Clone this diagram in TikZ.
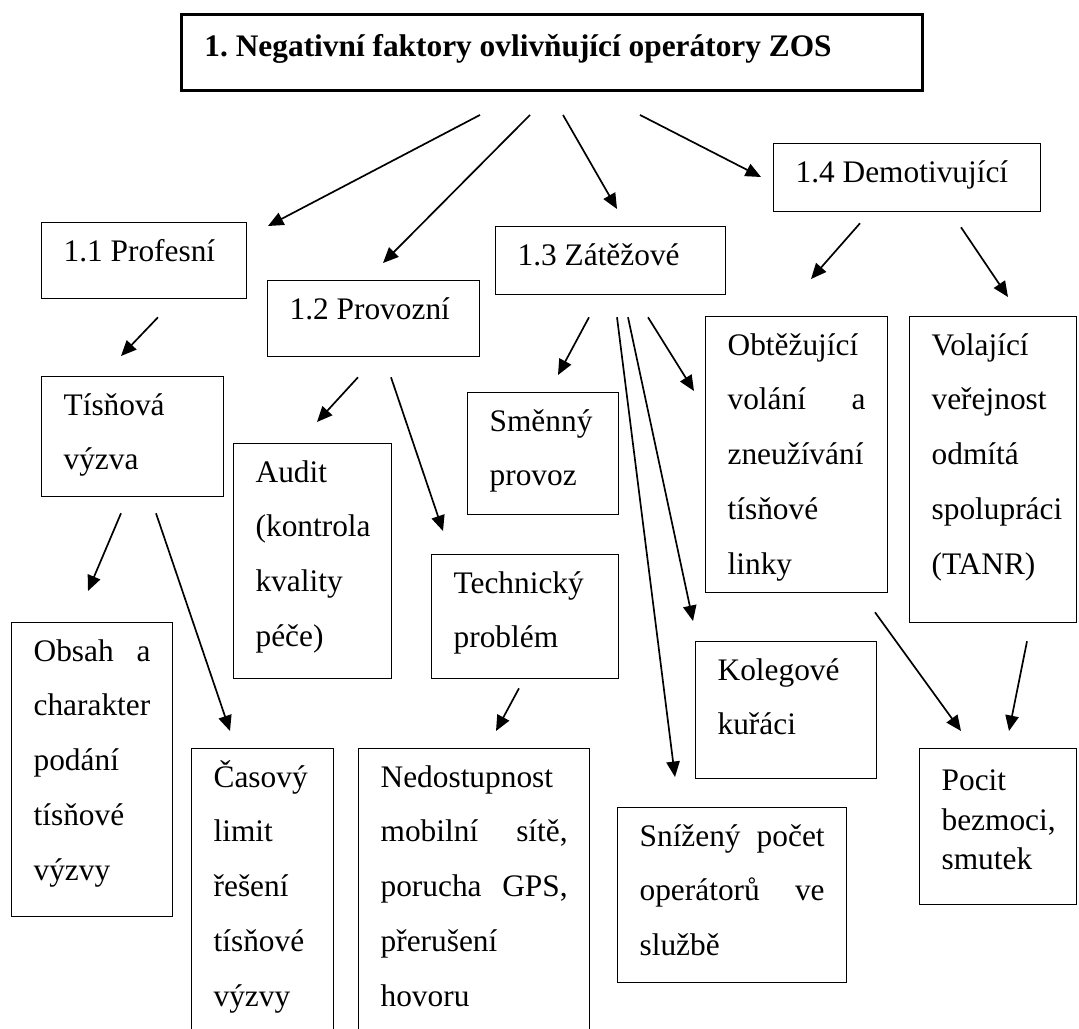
\documentclass[tikz,border=0pt]{standalone}
\usepackage{fontspec}
\setmainfont{Liberation Serif}
\usepackage{tikz}
\usetikzlibrary{arrows.meta}

\newlength{\px}
\setlength{\px}{0.025cm}
\frenchspacing
\hfuzz=20pt
\hbadness=10000
\hyphenpenalty=10000
\exhyphenpenalty=10000
\newcommand{\factbox}[4][\strut]{\parbox[t][#3\px][t]{#2\px}{#1#4}}

\begin{document}
\begin{tikzpicture}[
    x=0.025cm, y=-0.025cm,
    factor/.style={rectangle, draw, line width=0.9pt, anchor=north west, inner xsep=22\px, inner ysep=0pt, font=\fontsize{22.3pt}{39pt}\selectfont},
    heading/.style={factor, line width=2.1pt, inner xsep=23\px, font=\fontsize{22.3pt}{39pt}\selectfont\bfseries},
    arrow/.style={-{Triangle[length=11pt, width=9.5pt]}, line width=1.2pt}
]
\path[use as bounding box, clip] (0,0) rectangle (1079,1028);

\node[heading] (title) at (180,13) {\factbox[\rule{0pt}{29.9pt}]{695}{76}{1. Negativní faktory ovlivňující operátory ZOS}};

\node[factor] (prof) at (41,222) {\factbox{161}{76}{1.1 Profesní}};
\node[factor] (prov) at (267,280) {\factbox{168}{76}{1.2 Provozní}};
\node[factor] (zat) at (495,226) {\factbox{186}{68}{1.3 Zátěžové}};
\node[factor] (dem) at (773,143) {\factbox{223}{68}{1.4 Demotivující}};

\node[factor] (tis) at (41,376) {\factbox{138}{120}{Tísňová\\výzva}};
\node[factor] (audit) at (233,443) {\factbox{114}{235}{Audit\\(kontrola\\kvality\\péče)}};
\node[factor] (smen) at (467,392) {\factbox{107}{122}{Směnný\\provoz}};
\node[factor] (obt) at (705,316) {\factbox{138}{276}{Obtěžující\\volání\hfill a\\zneužívání\\tísňové\\linky}};
\node[factor] (vol) at (909,316) {\factbox{123}{306}{Volající\\veřejnost\\odmítá\\spolupráci\\(TANR)}};
\node[factor] (tech) at (431,554) {\factbox{143}{124}{Technický\\problém}};

\node[factor] (obsah) at (11,622) {\factbox{117}{294}{Obsah\hfill a\\charakter\\podání\\tísňové\\výzvy}};
\node[factor] (cas) at (191,748) {\factbox{98}{300}{Časový\\limit\\řešení\\tísňové\\výzvy}};
\node[factor] (ned) at (358,748) {\factbox{187}{300}{Nedostupnost\\mobilní\hfill sítě,\\porucha\hfill GPS,\\přerušení\\hovoru}};
\node[factor] (kol) at (695,641) {\factbox{137}{137}{Kolegové\\kuřáci}};
\node[factor] (sniz) at (617,807) {\factbox{185}{175}{Snížený\hfill počet\\operátorů\hfill ve\\službě}};
\node[factor] (pocit) at (919,748) {\factbox[\fontsize{22.3pt}{28pt}\selectfont\rule{0pt}{29.9pt}]{113}{156}{Pocit\\bezmoci,\\smutek}};

\draw[arrow] ([shift={(300,23)}]title.south west) -- ([shift={(227,4)}]prof.north west);
\draw[arrow] ([shift={(350,23)}]title.south west) -- ([shift={(116,-17)}]prov.north west);
\draw[arrow] ([shift={(383,23)}]title.south west) -- ([shift={(122,-17)}]zat.north west);
\draw[arrow] ([shift={(460,23)}]title.south west) -- ([shift={(-12,34)}]dem.north west);

\draw[arrow] ([shift={(117,18)}]prof.south west) -- ([shift={(80,-20)}]tis.north west);
\draw[arrow] ([shift={(91,20)}]prov.south west) -- ([shift={(84,-21)}]audit.north west);
\draw[arrow] ([shift={(124,20)}]prov.south west) -- ([shift={(12,-23)}]tech.north west);
\draw[arrow] ([shift={(94,22)}]zat.south west) -- ([shift={(91,-17)}]smen.north west);
\draw[arrow] ([shift={(122,22)}]zat.south west) -- ([shift={(58,-30)}]sniz.north west);
\draw[arrow] ([shift={(133,22)}]zat.south west) -- ([shift={(-2,-20)}]kol.north west);
\draw[arrow] ([shift={(153,22)}]zat.south west) -- ([shift={(-11,75)}]obt.north west);
\draw[arrow] ([shift={(87,11)}]dem.south west) -- ([shift={(106,-37)}]obt.north west);
\draw[arrow] ([shift={(188,15)}]dem.south west) -- ([shift={(99,-19)}]vol.north west);

\draw[arrow] ([shift={(80,16)}]tis.south west) -- ([shift={(77,-31)}]obsah.north west);
\draw[arrow] ([shift={(115,16)}]tis.south west) -- ([shift={(39,-17)}]cas.north west);
\draw[arrow] ([shift={(88,9)}]tech.south west) -- ([shift={(138,-17)}]ned.north west);
\draw[arrow] ([shift={(170,19)}]obt.south west) -- ([shift={(42,-17)}]pocit.north west);
\draw[arrow] ([shift={(118,18)}]vol.south west) -- ([shift={(90,-17)}]pocit.north west);

\end{tikzpicture}
\end{document}
